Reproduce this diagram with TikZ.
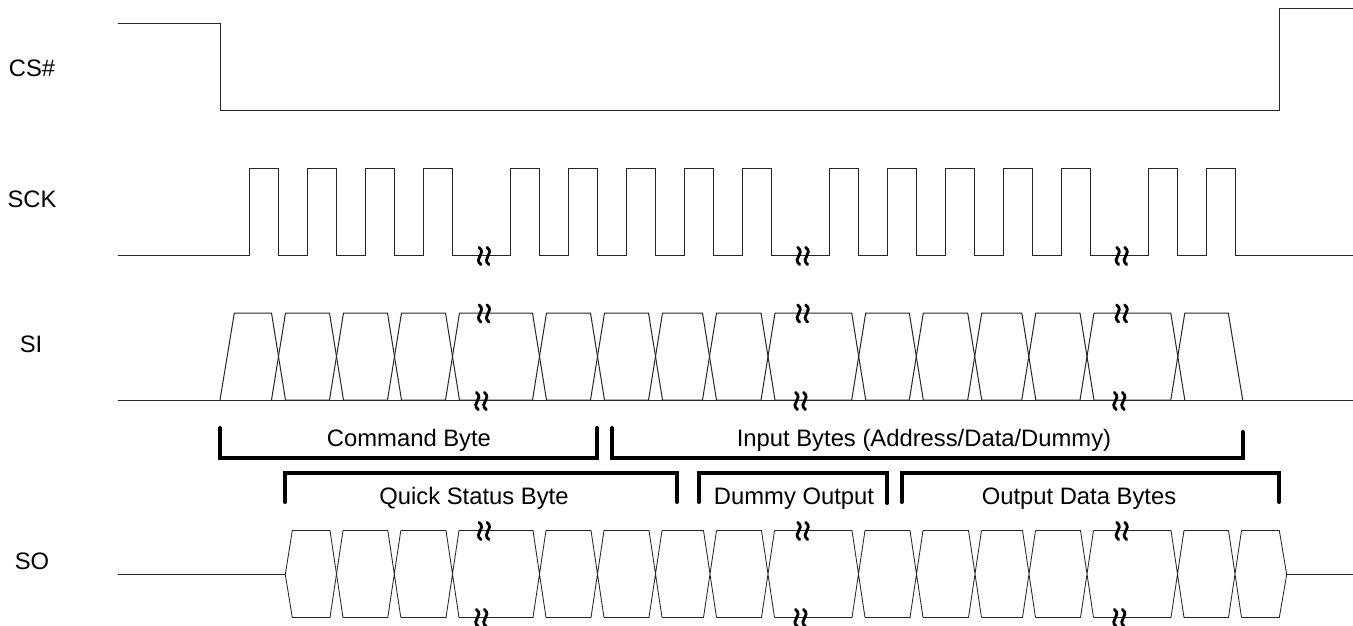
\documentclass[tikz,border=0pt]{standalone}
\usepackage{fontspec}
\setmainfont{Liberation Sans}
\usetikzlibrary{calc}
\tikzset{
  wave/.style={draw=black!85,line width=1pt,line join=miter},
  thinwave/.style={draw=black!85,line width=0.85pt,line join=miter},
  brk/.style={draw=black,line width=4pt,line cap=round,line join=miter},
  lab/.style={font=\fontsize{23.8}{28}\selectfont,text=black,inner sep=0pt,anchor=base}
}
% break mark: two thick wavy strokes
\newcommand{\brkmark}[2]{%
  \foreach \dx in {-4,4}{
    \draw[black,line width=2.8pt,line cap=round]
      ($(#1,#2)+(\dx-1,-8.6)$) .. controls ($(#1,#2)+(\dx+3,-5.5)$) and ($(#1,#2)+(\dx+1.6,-2.2)$) .. ($(#1,#2)+(\dx,0)$)
      .. controls ($(#1,#2)+(\dx-1.6,2.2)$) and ($(#1,#2)+(\dx-3,5.5)$) .. ($(#1,#2)+(\dx+1,8.6)$);
  }}
\begin{document}
\begin{tikzpicture}[x=1pt,y=-1pt]
\useasboundingbox (0,0) rectangle (1353,625);
% labels
\node[lab] (cs) at (32,76) {CS\#};
\node[lab] (sck) at (32,207) {SCK};
\node[lab] (si) at (31,352) {SI};
\node[lab] (so) at (32,569) {SO};
% CS#
\draw[wave] (118,23) -- (220,23) -- (220,110) -- (1279.5,110) -- (1279.5,8) -- (1353,8);
% SCK
\draw[wave] (118,255) -- (249.3,255)
  \foreach \r/\n in {249.3/278.5,307.3/336.5,365.3/394.5,423.3/452.5,510.3/539.5,568.3/597.5,626.3/655.5,684.3/713.5,742.3/771.5,829.5/858.5,887.5/916.5,945.5/974.5,1003.5/1032.5,1061.5/1090.5,1148.5/1177.5,1206.5/1235.5}{
    -- (\r,255) -- (\r,168) -- (\n,168) -- (\n,255)}
  -- (1353,255);
% SI
\draw[wave] (118,400) -- (1353,400);
\draw[wave] (220,400) -- (234.3,313) -- (271.5,313) -- (285.5,400);
\foreach \a/\b in {278.5/336.5,336.5/394.5,394.5/452.5,452.5/539.5,539.5/597.5,597.5/655.5,655.5/709.5,709.5/768,768/858.7,858.7/916.3,916.3/974.7,974.7/1028.8,1028.8/1087,1087/1177.8}{
  \draw[wave] (\a-7,400) -- (\a+7,313) -- (\b-7,313) -- (\b+7,400) (\a+7,400) -- (\b-7,400);
}
\draw[wave] (1170.8,400) -- (1184.8,313) -- (1228.3,313) -- (1242.7,400);
% SO
\draw[thinwave] (118,574.5) -- (285.3,574.5) -- (292.3,530.5) -- (330,530.5) -- (343,617.5);
\draw[thinwave] (285.3,574.5) -- (292.3,617.5) -- (330,617.5) -- (343,530.5);
\foreach \a/\b in {336.5/394.3,394.3/452.5,452.5/539.5,539.5/597.5,597.5/655.5,655.5/710,710/768,768/858.5,858.5/916.5,916.5/975,975/1029,1029/1087,1087/1177.5,1177.5/1235}{
  \draw[thinwave] (\a+6.5,530.5) -- (\b-6.5,530.5) -- (\b+6.5,617.5) (\a+6.5,617.5) -- (\b-6.5,617.5) -- (\b+6.5,530.5);
}
\draw[thinwave] (1241.5,530.5) -- (1279.3,530.5) -- (1286.7,574.5) -- (1279.3,617.5) -- (1241.5,617.5);
\draw[thinwave] (1286.7,574.5) -- (1353,574.5);
% brackets
\draw[brk] (220,428) |- (597.3,458) -- (597.3,428);
\draw[brk] (612,428) |- (1242.7,458) -- (1242.7,432);
\draw[brk] (285.3,502) |- (677,472.5) -- (677,502);
\draw[brk] (698.7,502) |- (887.3,472.5) -- (887.3,503);
\draw[brk] (901.7,502) |- (1279,472.5) -- (1279,502);
% texts
\node[lab] (t1) at (409,446) {Command Byte};
\node[lab] (t2) at (924,446) {Input Bytes (Address/Data/Dummy)};
\node[lab] (t3) at (474,504) {Quick Status Byte};
\node[lab] (t4) at (794,504) {Dummy Output};
\node[lab] (t5) at (1079,504) {Output Data Bytes};
% break marks
\foreach \x in {484,802.7,1121.7}{
  \brkmark{\x}{256}
  \brkmark{\x}{313.5}
  \brkmark{\x}{531}
}
\foreach \x in {481.3,800.5,1119.3}{
  \brkmark{\x}{401}
  \brkmark{\x}{618}
}
\end{tikzpicture}
\end{document}
